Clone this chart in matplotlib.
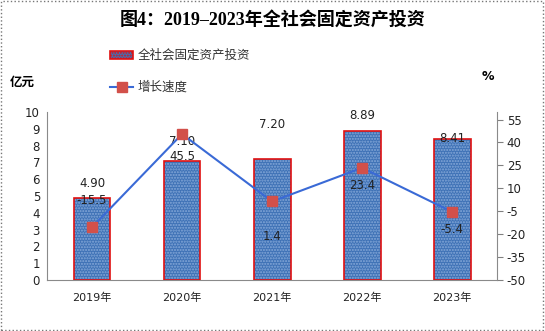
import matplotlib
matplotlib.use("Agg")
import matplotlib.pyplot as plt
from matplotlib.patches import Rectangle
from matplotlib.lines import Line2D

plt.rcParams['font.family'] = ['DejaVu Sans', 'Noto Sans CJK SC']
plt.rcParams['axes.unicode_minus'] = False

years = ["2019年", "2020年", "2021年", "2022年", "2023年"]
investment = [4.90, 7.10, 7.20, 8.89, 8.41]
growth = [-15.5, 45.5, 1.4, 23.4, -5.4]
left_ticks = list(range(0, 11))
right_ticks = [-50, -35, -20, -5, 10, 25, 40, 55]

# label offsets (points)
bar_off = [10, 14, 25, 11, 0]
line_off = [19, -16, -25, -13, -13]

fig = plt.figure(figsize=(5.45, 3.31), dpi=100)
ax = fig.add_axes([0.0862, 0.154, 0.826, 0.508])
ax2 = ax.twinx()

x = list(range(len(years)))
bar_color = '#3f72b6'
ax.bar(x, investment, width=0.41, color=bar_color, hatch='......',
       edgecolor='#86a9d9', linewidth=0, zorder=2)
ax.bar(x, investment, width=0.41, facecolor='none', edgecolor='#e01010',
       linewidth=1.2, zorder=3)
ax.set_xlim(-0.5, len(years) - 0.5)
ax.set_ylim(0, 10)
ax.set_yticks(left_ticks)
ax.set_xticks(x)
ax.set_xticklabels(years, fontsize=8, color='#222222')
ax.tick_params(axis='y', length=0, labelsize=8.5, colors='#222222', pad=5)
ax.tick_params(axis='x', length=0, pad=9)
for i, v in enumerate(investment):
    ax.annotate(f"{v:.2f}", (i, v), xytext=(0, bar_off[i]), textcoords='offset points',
                ha='center', va='center', fontsize=8.5, color='#222222', zorder=6)

ax2.plot(x, growth, color='#3a6ad6', linewidth=1.5, marker='s', markersize=6.5,
         markerfacecolor='#d2504a', markeredgecolor='#d2504a', zorder=5)
ax2.set_ylim(-50, 60)
ax2.set_yticks(right_ticks)
ax2.tick_params(axis='y', length=4, color='#808080', labelsize=8.5, colors='#222222', pad=3)
for i, v in enumerate(growth):
    ax2.annotate(f"{v:.1f}", (i, v), xytext=(0, line_off[i]), textcoords='offset points',
                 ha='center', va='center', fontsize=8.5, color='#222222', zorder=6)

for a in (ax, ax2):
    a.spines['top'].set_visible(False)
    for s in ('left', 'right', 'bottom'):
        a.spines[s].set_color('#8a8a8a')
ax2.spines['left'].set_visible(False)
ax.spines['right'].set_visible(False)
ax2.spines['bottom'].set_visible(False)

fig.text(0.5, 0.94, "图4：2019–2023年全社会固定资产投资", ha='center', va='center',
         fontsize=13, fontweight='bold', family=['Liberation Serif', 'Noto Sans CJK SC'])

# legend
fig.patches.append(Rectangle((110/545, 1-59/331), 23/545, 8/331, transform=fig.transFigure,
                             facecolor=bar_color, edgecolor='#e01010', linewidth=1.2, hatch='......'))
fig.text(138/545, 1-55/331, "全社会固定资产投资", ha='left', va='center', fontsize=9,
         color='#333333', family=['Noto Sans CJK SC'])
fig.lines.append(Line2D([110/545, 133/545], [1-87/331, 1-87/331], transform=fig.transFigure,
                        color='#3a6ad6', linewidth=1.5))
fig.lines.append(Line2D([121.5/545], [1-87/331], transform=fig.transFigure, marker='s',
                        markersize=6.5, color='#d2504a', linestyle='none'))
fig.text(138/545, 1-87/331, "增长速度", ha='left', va='center', fontsize=9,
         color='#333333', family=['Noto Sans CJK SC'])

fig.text(22/545, 1-82/331, "亿元", ha='center', va='center', fontsize=9, fontweight='bold',
         family=['Noto Sans CJK SC'])
fig.text(488/545, 1-77/331, "%", ha='center', va='center', fontsize=9, fontweight='bold')

fig.patches.append(Rectangle((0.002, 0.003), 0.995, 0.993, transform=fig.transFigure,
                             facecolor='none', edgecolor='#777777', linewidth=1, linestyle=':'))

fig.savefig("out.png", dpi=100)
